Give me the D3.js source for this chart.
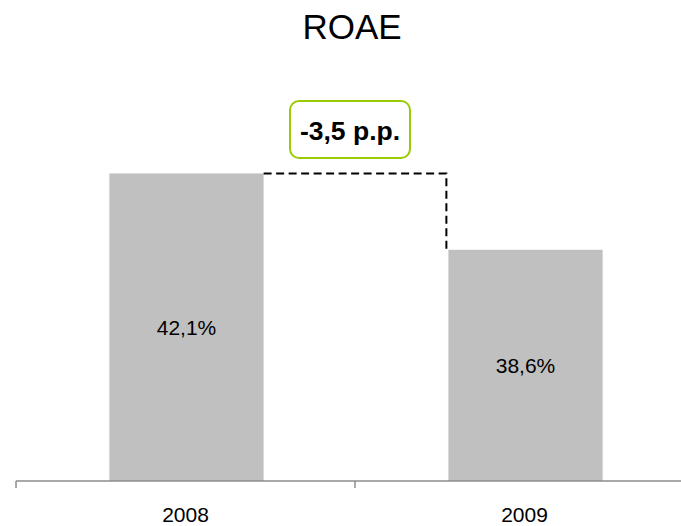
<!DOCTYPE html>
<html>
<head>
<meta charset="utf-8">
<script src="https://cdn.jsdelivr.net/npm/d3@7/dist/d3.min.js"></script>
<style>
  html, body { margin: 0; padding: 0; background: #fff; }
  svg { display: block; font-family: "Liberation Sans", Arial, sans-serif; }
</style>
</head>
<body>
<svg id="chart" width="681" height="526"></svg>
<script>
// ROAE by year, percent
const years = ["2008", "2009"];
const roae = [42.1, 38.6];
const valueLabels = ["42,1%", "38,6%"];
const changeLabel = "-3,5 p.p.";
const title = "ROAE";

const svg = d3.select("#chart");
const W = 681, H = 526;
const baseY = 481;

// category slots (for axis ticks and labels) and narrower bars inside them
const xCat = d3.scaleBand().domain(years).range([16, 694]).padding(0);
const xBar = d3.scaleBand().domain(years).range([17, 695])
  .paddingInner(0.545).paddingOuter(0.2725);

const y = d3.scaleLinear().domain([28, 44]).range([baseY, 132]);

// title
svg.append("text")
  .attr("x", 352).attr("y", 39)
  .attr("text-anchor", "middle")
  .attr("font-size", 35)
  .attr("fill", "#000")
  .text(title);

// bars
svg.selectAll("rect.bar")
  .data(years)
  .join("rect")
  .attr("class", "bar")
  .attr("x", d => xBar(d))
  .attr("width", xBar.bandwidth())
  .attr("y", (d, i) => y(roae[i]))
  .attr("height", (d, i) => baseY - y(roae[i]))
  .attr("fill", "#c0c0c0");

// value labels centred in each bar
svg.selectAll("text.val")
  .data(years)
  .join("text")
  .attr("class", "val")
  .attr("x", d => xBar(d) + xBar.bandwidth() / 2)
  .attr("y", (d, i) => (y(roae[i]) + baseY) / 2)
  .attr("dy", "0.35em")
  .attr("text-anchor", "middle")
  .attr("font-size", 21)
  .attr("fill", "#000")
  .text((d, i) => valueLabels[i]);

// x axis
const axis = svg.append("g").attr("transform", `translate(0,${baseY})`);
axis.append("line")
  .attr("x1", 16).attr("x2", W)
  .attr("stroke", "#8c8c8c").attr("stroke-width", 1.5);
const tickXs = years.map(d => xCat(d)).concat([xCat.range()[1]]);
axis.selectAll("line.tick")
  .data(tickXs)
  .join("line")
  .attr("class", "tick")
  .attr("x1", d => d).attr("x2", d => d)
  .attr("y1", 0).attr("y2", 7)
  .attr("stroke", "#8c8c8c").attr("stroke-width", 1.5);
axis.selectAll("text.cat")
  .data(years)
  .join("text")
  .attr("class", "cat")
  .attr("x", d => xCat(d) + xCat.bandwidth() / 2)
  .attr("y", 41)
  .attr("text-anchor", "middle")
  .attr("font-size", 21)
  .attr("fill", "#000")
  .text(d => d);

// dashed connector from the 2008 top across to the 2009 top
const x0 = xBar(years[0]) + xBar.bandwidth();
const x1 = xBar(years[1]) - 2;
svg.append("path")
  .attr("d", `M${x0},${y(roae[0])}H${x1}V${y(roae[1])}`)
  .attr("fill", "none")
  .attr("stroke", "#000")
  .attr("stroke-width", 2)
  .attr("stroke-dasharray", "8,4.5");

// change badge
const badge = svg.append("g");
badge.append("rect")
  .attr("x", 290).attr("y", 101)
  .attr("width", 120).attr("height", 57)
  .attr("rx", 9).attr("ry", 9)
  .attr("fill", "#fff")
  .attr("stroke", "#99cc00")
  .attr("stroke-width", 2);
badge.append("text")
  .attr("x", 350).attr("y", 140)
  .attr("text-anchor", "middle")
  .attr("font-size", 26.5)
  .attr("font-weight", "bold")
  .attr("fill", "#000")
  .text(changeLabel);
</script>
</body>
</html>
